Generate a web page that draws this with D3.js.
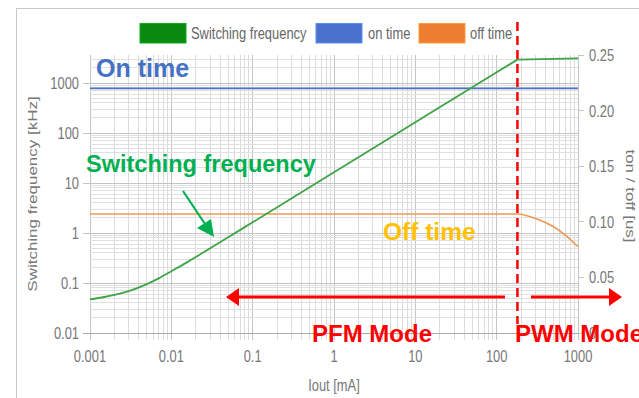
<!DOCTYPE html>
<html><head><meta charset="utf-8">
<script src="https://cdn.jsdelivr.net/npm/d3@7/dist/d3.min.js"></script>
<style>html,body{margin:0;padding:0;background:#fff;}svg{display:block;}</style>
</head><body><svg id="c" width="639" height="398"></svg>
<script>
// ---- data ----
const ioutTicks = [0.001, 0.01, 0.1, 1, 10, 100, 1000];
const ioutTickLabels = ["0.001", "0.01", "0.1", "1", "10", "100", "1000"];
const fswTicks = [0.01, 0.1, 1, 10, 100, 1000];
const fswTickLabels = ["0.01", "0.1", "1", "10", "100", "1000"];
const timeTicks = [0, 0.05, 0.10, 0.15, 0.20, 0.25];
const timeTickLabels = ["0", "0.05", "0.10", "0.15", "0.20", "0.25"];

const fswIoutPFM = [0.001, 0.0015, 0.002, 0.003, 0.005, 0.007, 0.01, 0.015, 0.02, 0.03, 0.05, 0.1, 1, 10, 100, 180];
const fswPFM =     [0.047, 0.0525, 0.058, 0.069, 0.095, 0.124, 0.172, 0.25, 0.33, 0.495, 0.82, 1.64, 16.4, 164, 1640, 2940];
const fswIoutPWM = [180, 1000];
const fswPWM =     [2940, 3120];

const tonIout = [0.001, 1000];
const tonUs =   [0.22, 0.22];

const toffIout = [0.001, 180, 300, 500, 700, 1000];
const toffUs =   [0.107, 0.107, 0.103, 0.0956, 0.088, 0.0776];

const modeBoundary = 180;
const legendLabels = ["Switching frequency", "on time", "off time"];

// ---- layout ----
const svg = d3.select("#c");
const X0 = 90, X1 = 578, YB = 333, YT = 55;
const x = d3.scaleLog().domain([0.001, 1000]).range([X0, X1]);
const yL = d3.scaleLog().domain([0.01, 1000]).range([YB, 83]);
const yR = d3.scaleLinear().domain([0, 0.25]).range([YB, YT]);
const grey = "#777";
const SX = 0.76;

// frame
svg.append("rect").attr("x", 16.5).attr("y", 8.5).attr("width", 660).attr("height", 420)
  .attr("fill", "none").attr("stroke", "#c8c8c8");

function ctext(g, tx, ty, str, anchor, size, fill, rot) {
  const t = g.append("text")
    .attr("transform", rot ? `translate(${tx},${ty}) rotate(${rot}) scale(1,${SX})` : `translate(${tx},${ty}) scale(${SX},1)`)
    .attr("text-anchor", anchor)
    .attr("font-family", "Arial, 'Liberation Sans', sans-serif")
    .attr("font-size", size).attr("fill", fill).text(str);
  if (rot) t.attr("dominant-baseline", "central");
  return t;
}

// grid
const grid = svg.append("g");
const vLines = [];
for (let k = -3; k <= 2; k++) for (let i = 1; i <= 9; i++) vLines.push({v: i * Math.pow(10, k), major: i === 1});
vLines.push({v: 1000, major: true});
vLines.forEach(d => {
  grid.append("line").attr("x1", x(d.v)).attr("x2", x(d.v)).attr("y1", YT).attr("y2", YB + 7)
    .attr("stroke", d.major ? "#c4c4c4" : "#dcdcdc").attr("stroke-width", 1)
    .attr("shape-rendering", "crispEdges");
});
const hLines = [];
for (let k = -2; k <= 3; k++) for (let i = 1; i <= 9; i++) {
  const v = i * Math.pow(10, k);
  if (yL(v) >= YT) hLines.push({v: v, major: i === 1});
}
hLines.forEach(d => {
  grid.append("line").attr("x1", d.major ? X0 - 7 : X0).attr("x2", X1).attr("y1", yL(d.v)).attr("y2", yL(d.v))
    .attr("stroke", d.major ? "#c4c4c4" : "#e0e0e0").attr("stroke-width", 1)
    .attr("shape-rendering", "crispEdges");
});
timeTicks.forEach(v => {
  grid.append("line").attr("x1", X1).attr("x2", X1 + 6).attr("y1", yR(v)).attr("y2", yR(v))
    .attr("stroke", "#c4c4c4").attr("shape-rendering", "crispEdges");
});
grid.append("line").attr("x1", X0 - 7).attr("x2", X1).attr("y1", YB).attr("y2", YB)
  .attr("stroke", "#aaa").attr("shape-rendering", "crispEdges");

// tick labels
const lab = svg.append("g");
ioutTicks.forEach((v, i) => ctext(lab, x(v), 361.5, ioutTickLabels[i], "middle", 17, grey));
fswTicks.forEach((v, i) => ctext(lab, 79, yL(v) + 6, fswTickLabels[i], "end", 17, grey));
timeTicks.forEach((v, i) => ctext(lab, 589, yR(v) + 6, timeTickLabels[i], "start", 17, grey));
ctext(lab, (X0 + X1) / 2, 391, "Iout [mA]", "middle", 17, grey);
ctext(lab, 32, 194, "Switching frequency [kHz]", "middle", 17, grey, -90);
ctext(lab, 631, 196, "ton / toff [us]", "middle", 17, grey, 90);

// series
const lineL = d3.line().x(d => x(d[0])).y(d => yL(d[1]));
const lineR = d3.line().x(d => x(d[0])).y(d => yR(d[1]));
svg.append("path").attr("d", lineR(d3.zip(tonIout, tonUs))).attr("fill", "none")
  .attr("stroke", "#4a72cc").attr("stroke-width", 1.6);
svg.append("path").attr("d", lineR.curve(d3.curveMonotoneX)(d3.zip(toffIout, toffUs))).attr("fill", "none")
  .attr("stroke", "#ef9a55").attr("stroke-width", 1.6);
svg.append("path").attr("d", lineL.curve(d3.curveMonotoneX)(d3.zip(fswIoutPFM, fswPFM))).attr("fill", "none")
  .attr("stroke", "#3ea447").attr("stroke-width", 1.8);
svg.append("path").attr("d", d3.line().x(d => x(d[0])).y(d => yL(d[1]))(d3.zip(fswIoutPWM, fswPWM))).attr("fill", "none")
  .attr("stroke", "#3ea447").attr("stroke-width", 1.8);

// legend
const lg = svg.append("g");
const legendItems = [
  {rx: 140, tx: 191, fill: "#0b8a12"},
  {rx: 316, tx: 368, fill: "#4a72cc"},
  {rx: 419, tx: 470, fill: "#ed7d31"}
];
legendItems.forEach((d, i) => {
  lg.append("rect").attr("x", d.rx).attr("y", 23.5).attr("width", 46).attr("height", 19.5)
    .attr("fill", d.fill).attr("stroke", d3.color(d.fill).brighter(0.6)).attr("stroke-width", 1);
  ctext(lg, d.tx, 38.5, legendLabels[i], "start", 17, "#666");
});

// mode boundary
const bx = x(modeBoundary);
svg.append("line").attr("x1", bx).attr("x2", bx).attr("y1", 22).attr("y2", 324)
  .attr("stroke", "#ff0000").attr("stroke-width", 2.5).attr("stroke-dasharray", "9,5");

// annotations
const an = svg.append("g").attr("font-family", "Arial, 'Liberation Sans', sans-serif").attr("font-weight", "bold");
an.append("text").attr("x", 96).attr("y", 77).attr("font-size", 25).attr("fill", "#4472c4").text("On time");
an.append("text").attr("x", 86).attr("y", 172).attr("font-size", 23.5).attr("fill", "#00b050").text("Switching frequency");
an.append("text").attr("x", 383).attr("y", 240).attr("font-size", 24.5).attr("fill", "#ffc000").text("Off time");
an.append("text").attr("x", 312).attr("y", 341.5).attr("font-size", 24).attr("fill", "#ff0000").text("PFM Mode");
an.append("text").attr("x", 515).attr("y", 341.5).attr("font-size", 24).attr("fill", "#ff0000").text("PWM Mode");

// green arrow
an.append("line").attr("x1", 183).attr("y1", 191).attr("x2", 205).attr("y2", 224)
  .attr("stroke", "#00b050").attr("stroke-width", 2.2);
an.append("path").attr("d", "M214,237 L197,228 L211,219 Z").attr("fill", "#00b050");

// red arrows
const ay = 297;
an.append("line").attr("x1", 238).attr("x2", 505).attr("y1", ay).attr("y2", ay).attr("stroke", "#ff0000").attr("stroke-width", 3);
an.append("path").attr("d", `M226,${ay} L239,${ay - 9} L239,${ay + 9} Z`).attr("fill", "#ff0000");
an.append("line").attr("x1", 531).attr("x2", 610).attr("y1", ay).attr("y2", ay).attr("stroke", "#ff0000").attr("stroke-width", 3);
an.append("path").attr("d", `M622,${ay} L609,${ay - 9} L609,${ay + 9} Z`).attr("fill", "#ff0000");
</script></body></html>
